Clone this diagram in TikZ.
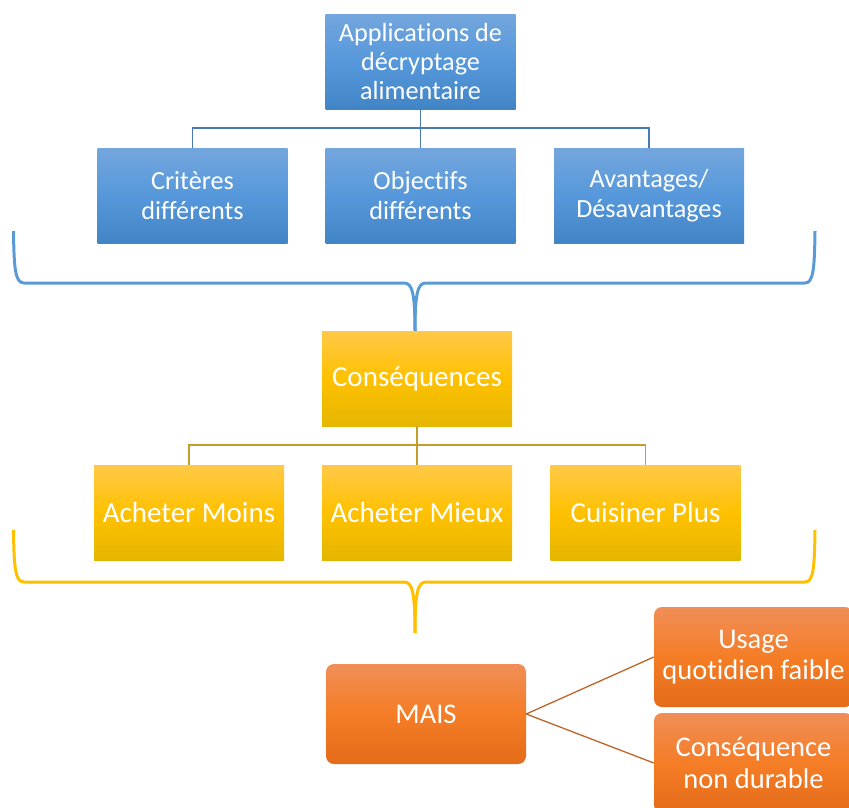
\documentclass[tikz,border=0pt]{standalone}
\usepackage{fontspec}
\setmainfont{Carlito}[Ligatures={NoCommon}]
\definecolor{bTop}{RGB}{116,166,221}
\definecolor{bMid}{RGB}{86,152,219}
\definecolor{bBot}{RGB}{66,133,198}
\definecolor{yTop}{RGB}{255,201,72}
\definecolor{yMid}{RGB}{255,193,0}
\definecolor{yBot}{RGB}{229,182,0}
\definecolor{oTop}{RGB}{240,142,88}
\definecolor{oMid}{RGB}{245,125,38}
\definecolor{oBot}{RGB}{228,108,26}
\definecolor{braceBlue}{RGB}{91,155,213}
\definecolor{braceYellow}{RGB}{255,192,0}
\definecolor{conBlue}{RGB}{72,124,176}
\definecolor{conYellow}{RGB}{196,158,40}
\definecolor{conOrange}{RGB}{190,100,40}
\begin{document}
\begin{tikzpicture}[x=1pt,y=-1pt,
  box/.style={minimum width=190pt,minimum height=95pt,inner sep=0pt,align=center,
    text=white},
  bluebox/.style={box,font=\fontsize{26.2}{29.3}\selectfont,
    top color=bTop,bottom color=bBot,middle color=bMid},
  yellowbox/.style={box,font=\fontsize{29}{32}\selectfont,
    top color=yTop,bottom color=yBot,middle color=yMid},
  orangebox/.style={box,font=\fontsize{28.5}{31.7}\selectfont,
    minimum width=199pt,minimum height=100pt,rounded corners=8pt,
    top color=oTop,bottom color=oBot,middle color=oMid},
  bluecon/.style={draw=conBlue,line width=1.3pt},
  yellowcon/.style={draw=conYellow,line width=1.3pt},
  orangecon/.style={draw=conOrange,line width=1.3pt},
  bracestyle/.style={line width=3pt,line join=round}
]
\clip (0,0) rectangle (849,807);

% blue level
\node[bluebox] (app) at (420.5,61.5) {Applications de\\décryptage\\alimentaire};
\node[bluebox] (crit) at (192.5,195.5) {Critères\\différents};
\node[bluebox] (obj) at (420.5,195.5) {Objectifs\\différents};
\node[bluebox] (avan) at (649,195.5) {Avantages/\\Désavantages};
\coordinate (bj) at (420.5,128);
\draw[bluecon] (app.south) -- (obj.north);
\draw[bluecon] (crit.north) |- (bj) -| (avan.north);

% blue brace
\draw[bracestyle,draw=braceBlue]
  (13.5,231) .. controls (14,268) and (15,283) .. (24,283)
  -- (404,283) .. controls (412,283) and (415,292) .. (415,331);
\draw[bracestyle,draw=braceBlue]
  (815,231) .. controls (814.5,268) and (813.5,283) .. (805,283)
  -- (426,283) .. controls (418,283) and (415,292) .. (415,331);

% yellow level
\node[yellowbox] (cons) at (417,378.5) {Conséquences};
\node[yellowbox] (moins) at (189,512.5) {Acheter Moins};
\node[yellowbox] (mieux) at (417,512.5) {Acheter Mieux};
\node[yellowbox] (plus) at (645.5,512.5) {Cuisiner Plus};
\coordinate (yj) at (417,445);
\draw[yellowcon] (cons.south) -- (mieux.north);
\draw[yellowcon] (moins.north) |- (yj) -| (plus.north);

% yellow brace
\draw[bracestyle,draw=braceYellow]
  (13.5,530) .. controls (14,567) and (15,582) .. (24,582)
  -- (404,582) .. controls (412,582) and (415,591) .. (415,633);
\draw[bracestyle,draw=braceYellow]
  (815,530) .. controls (814.5,567) and (813.5,582) .. (805,582)
  -- (426,582) .. controls (418,582) and (415,591) .. (415,633);

% orange level
\node[orangebox,minimum width=200pt] (mais) at (426,714) {MAIS};
\node[orangebox] (usage) at (753.5,657) {Usage\\quotidien faible};
\node[orangebox] (durable) at (753.5,763) {Conséquence\\non durable};
\draw[orangecon] (mais.east) -- (usage.west);
\draw[orangecon] (mais.east) -- (durable.west);
\end{tikzpicture}
\end{document}
